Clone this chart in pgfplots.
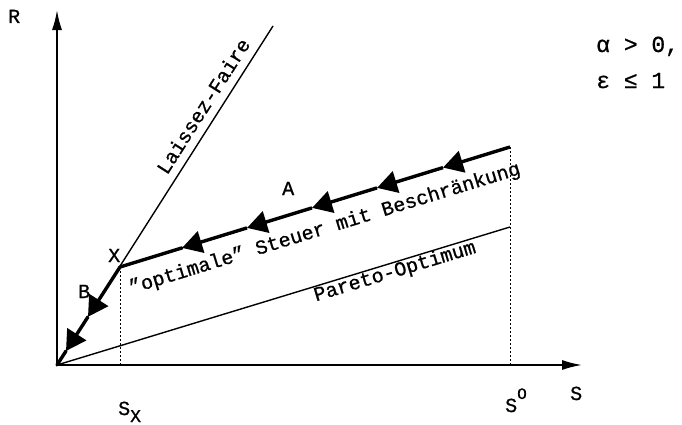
\documentclass[border=0pt]{standalone}
\usepackage{pgfplots}
\pgfplotsset{compat=1.18}
\usepackage{fontspec}
\setmainfont{Liberation Mono}[FakeBold=0.8]
\usetikzlibrary{arrows.meta}

\tikzset{
  lbl/.style={font=\fontsize{20}{22}\selectfont, inner sep=0pt},
  bigtip/.tip={Triangle[length=20pt,width=22pt]},
}
\pgfplotsset{
  path/.style={line width=3.4pt, line cap=round},
  seg/.style={line width=3.4pt, arrows={-bigtip}},
}

\begin{document}
\begin{tikzpicture}
% frame of the picture (682 x 424)
\path (-57pt,-59pt) rectangle (625pt,365pt);
\begin{axis}[
    x=1pt, y=1pt,
    xmin=0, xmax=525, ymin=0, ymax=355,
    axis lines=left,
    axis line style={line width=1.8pt, -{Latex[length=20pt,width=10pt]}},
    xtick=\empty, ytick=\empty,
    clip=false,
]
% Laissez-Faire
\addplot[line width=1.4pt] coordinates {(0,0) (216,339)};
% Pareto-Optimum
\addplot[line width=1.4pt] coordinates {(0,0) (453,138)};
% S_X and S^O
\addplot[line width=0.9pt, dash pattern=on 2pt off 2pt] coordinates {(63,0) (63,98)};
\addplot[line width=0.9pt, dash pattern=on 2pt off 2pt] coordinates {(453,0) (453,218)};
% path A, from S^O back to X
\addplot[seg] coordinates {(453,218) (386,197.4)};
\addplot[seg] coordinates {(386,197.4) (320,177.1)};
\addplot[seg] coordinates {(320,177.1) (255,157.1)};
\addplot[seg] coordinates {(255,157.1) (190,137.1)};
\addplot[seg] coordinates {(190,137.1) (125,117.1)};
\addplot[path] coordinates {(125,117.1) (63,98)};
% path B, from X to the origin
\addplot[seg] coordinates {(63,98) (31,48.2)};
\addplot[seg] coordinates {(31,48.2) (9,14.0)};
\addplot[path] coordinates {(9,14.0) (0,0)};

\node[lbl, anchor=base west] at (axis cs:-49,342) {R};
\node[lbl, anchor=base west] at (axis cs:513,-35) {S};
\node[lbl, anchor=base west] at (axis cs:448,-47) {S\raisebox{13pt}{\fontsize{16}{16}\selectfont O}};
\node[lbl, anchor=base west] at (axis cs:61,-50) {S\raisebox{-7pt}{\fontsize{18}{18}\selectfont X}};
\node[lbl, anchor=base west] at (axis cs:51,103) {X};
\node[lbl, anchor=base west] at (axis cs:21,67) {B};
\node[lbl, anchor=base west] at (axis cs:225,170) {A};
\node[lbl, rotate=57.5] at (axis cs:146,259) {Laissez-Faire};
\node[lbl, rotate=17.1] at (axis cs:268,136) {"optimale" Steuer mit Beschränkung};
\node[lbl, rotate=16.9] at (axis cs:338,93) {Pareto-Optimum};
\node[lbl, anchor=base west, font=\fontsize{23}{26}\selectfont] at (axis cs:539,313) {α > 0,};
\node[lbl, anchor=base west, font=\fontsize{23}{26}\selectfont] at (axis cs:539,277) {ε ≤ 1};
\end{axis}
\end{tikzpicture}
\end{document}
